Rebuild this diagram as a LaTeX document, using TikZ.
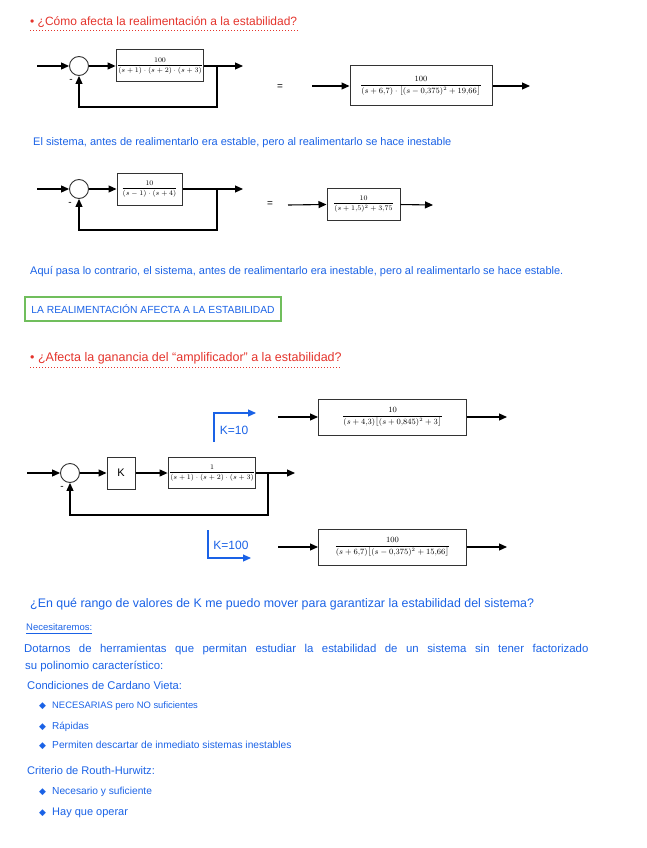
\documentclass[tikz,border=0pt]{standalone}
\usepackage{amsmath}
\usepackage{fontspec}
\setmainfont{Liberation Sans}
\newfontfamily\symfont{DejaVu Sans}
\usetikzlibrary{arrows.meta}

\definecolor{notered}{RGB}{228,52,44}
\definecolor{noteblue}{RGB}{26,98,230}
\definecolor{notegreen}{RGB}{112,190,92}

\begin{document}
\begin{tikzpicture}[x=1pt,y=-1pt,
  block/.style={draw=black!80,line width=1pt,inner sep=1pt,font=\fontsize{7}{8}\selectfont},
  sumnode/.style={draw=black!80,circle,minimum size=19pt,inner sep=0pt,line width=0.9pt},
  arr/.style={-{Triangle[length=8pt,width=7pt]},line width=1.1pt},
  karr/.style={-{Triangle[length=8pt,width=7pt]},line width=1.1pt,noteblue},
  redtitle/.style={anchor=base west,text=notered,font=\fontsize{12}{14}\selectfont,inner sep=0pt},
  bluetxt/.style={anchor=base west,text=noteblue,font=\fontsize{11}{13}\selectfont,inner sep=0pt},
  ktxt/.style={text=noteblue,font=\fontsize{12}{14}\selectfont,inner sep=0pt},
  sign/.style={font=\fontsize{10}{12}\selectfont,inner sep=0pt},
  bul/.style={anchor=base west,text=noteblue,font=\fontsize{9}{10}\symfont,inner sep=0pt}
]
\useasboundingbox (0,0) rectangle (646,848);

% ---- title 1
\node[redtitle] (t1) at (30,26) {• ¿Cómo afecta la realimentación a la estabilidad?};
\draw[notered,dotted,line width=1pt] ([yshift=-5pt]t1.base west) -- ([yshift=-5pt]t1.base east);

% ---- diagram 1
\coordinate (in1) at (37,66);
\node[sumnode] (s1) at (79,66) {};
\node[block,minimum width=84pt,minimum height=32pt] (g1) at (160,66) {$\dfrac{100}{(s+1)\cdot(s+2)\cdot(s+3)}$};
\coordinate (b1) at (217,66);
\coordinate (out1) at (243,66);
\coordinate (fb1) at (79,107);
\draw[arr] (in1) -- (s1);
\draw[arr] (s1) -- (g1);
\draw[arr] (g1) -- (out1);
\draw[arr] (b1) |- (fb1) -- (s1);
\node[sign] (m1) at (71,81) {-};
\node[sign] (eq1) at (280,87) {=};
\coordinate (in1e) at (312,86);
\node[block,minimum width=142pt,minimum height=40pt,font=\fontsize{7.6}{9}\selectfont] (h1) at (421,86) {$\dfrac{100}{(s+6{,}7)\cdot\bigl[(s-0{,}375)^2+19{,}66\bigr]}$};
\coordinate (out1e) at (530,86);
\draw[arr] (in1e) -- (h1);
\draw[arr] (h1) -- (out1e);

\node[bluetxt] (c1) at (33,146) {El sistema, antes de realimentarlo era estable, pero al realimentarlo se hace inestable};

% ---- diagram 2
\coordinate (in2) at (37,189);
\node[sumnode] (s2) at (79,189) {};
\node[block,minimum width=65pt,minimum height=32pt] (g2) at (149.5,189) {$\dfrac{10}{(s-1)\cdot(s+4)}$};
\coordinate (b2) at (217,189);
\coordinate (out2) at (243,189);
\coordinate (fb2) at (79,230);
\draw[arr] (in2) -- (s2);
\draw[arr] (s2) -- (g2);
\draw[arr] (g2) -- (out2);
\draw[arr] (b2) |- (fb2) -- (s2);
\node[sign] (m2) at (70,204) {-};
\node[sign] (eq2) at (270,204) {=};
\coordinate (in2e) at (288,205);
\node[block,minimum width=73pt,minimum height=32pt] (h2) at (363.5,204) {$\dfrac{10}{(s+1{,}5)^2+3{,}75}$};
\coordinate (out2e) at (433,205);
\draw[arr] (in2e) -- (h2);
\draw[arr] (h2) -- (out2e);

\node[bluetxt] (c2) at (30,274) {Aquí pasa lo contrario, el sistema, antes de realimentarlo era inestable, pero al realimentarlo se hace estable.};

\node[draw=notegreen,line width=1.2pt,minimum width=256pt,minimum height=24pt,text=noteblue,font=\fontsize{10.3}{12}\selectfont] (res) at (153,309) {LA REALIMENTACIÓN AFECTA A LA ESTABILIDAD};

% ---- title 2
\node[redtitle,font=\fontsize{12.5}{14}\selectfont] (t2) at (30,361) {• ¿Afecta la ganancia del “amplificador” a la estabilidad?};
\draw[notered,dotted,line width=1pt] ([yshift=-6pt]t2.base west) -- ([yshift=-6pt]t2.base east);

% ---- K = 10
\coordinate (k10a) at (214,442);
\coordinate (k10b) at (214,413);
\coordinate (k10c) at (256,413);
\draw[karr] (k10a) -- (k10b) -- (k10c);
\node[ktxt] (k10) at (234,430) {K=10};
\coordinate (in10) at (278,417);
\node[block,minimum width=148pt,minimum height=36pt,font=\fontsize{7.6}{9}\selectfont] (r10) at (392.5,417) {$\dfrac{10}{(s+4{,}3)\bigl[(s+0{,}845)^2+3\bigr]}$};
\coordinate (out10) at (507,417);
\draw[arr] (in10) -- (r10);
\draw[arr] (r10) -- (out10);

% ---- diagram 3
\coordinate (in3) at (27,473);
\node[sumnode] (s3) at (70,473) {};
\node[block,minimum width=28pt,minimum height=32pt,font=\fontsize{11}{12}\selectfont] (kb) at (121,473) {K};
\node[block,minimum width=84pt,minimum height=31pt] (g3) at (212,473) {$\dfrac{1}{(s+1)\cdot(s+2)\cdot(s+3)}$};
\coordinate (b3) at (268,473);
\coordinate (out3) at (295,473);
\coordinate (fb3) at (70,515);
\draw[arr] (in3) -- (s3);
\draw[arr] (s3) -- (kb);
\draw[arr] (kb) -- (g3);
\draw[arr] (g3) -- (out3);
\draw[arr] (b3) |- (fb3) -- (s3);
\node[sign] (m3) at (62,488) {-};

% ---- K = 100
\coordinate (k100a) at (208,530);
\coordinate (k100b) at (208,558);
\coordinate (k100c) at (251,558);
\draw[karr] (k100a) -- (k100b) -- (k100c);
\node[ktxt] (k100) at (231,545) {K=100};
\coordinate (in100) at (278,547);
\node[block,minimum width=148pt,minimum height=36pt,font=\fontsize{7.6}{9}\selectfont] (r100) at (392.5,547) {$\dfrac{100}{(s+6{,}7)\bigl[(s-0{,}375)^2+15{,}66\bigr]}$};
\coordinate (out100) at (507,547);
\draw[arr] (in100) -- (r100);
\draw[arr] (r100) -- (out100);

% ---- notes
\node[bluetxt,font=\fontsize{12.4}{14}\selectfont] (q) at (30,607) {¿En qué rango de valores de K me puedo mover para garantizar la estabilidad del sistema?};
\node[bluetxt,font=\fontsize{9.5}{11}\selectfont] (nec) at (26,630) {Necesitaremos:};
\draw[noteblue,line width=0.6pt] ([yshift=-3pt]nec.base west) -- ([yshift=-3pt]nec.base east);
\node[bluetxt,font=\fontsize{11.4}{14}\selectfont] (d1) at (24,652) {\spaceskip=8.5pt\relax Dotarnos de herramientas que permitan estudiar la estabilidad de un sistema sin tener factorizado};
\node[bluetxt,font=\fontsize{11.4}{14}\selectfont] (d2) at (25,669) {su polinomio característico:};
\node[bluetxt,font=\fontsize{11.2}{13}\selectfont] (cv) at (27,689) {Condiciones de Cardano Vieta:};
\node[bul] (cv1b) at (39,708) {◆};
\node[bluetxt,font=\fontsize{9.4}{11}\selectfont] (cv1) at (52,708) {NECESARIAS pero NO suficientes};
\node[bul] (cv2b) at (39,729) {◆};
\node[bluetxt,font=\fontsize{10}{11}\selectfont] (cv2) at (52,729) {Rápidas};
\node[bul] (cv3b) at (39,748) {◆};
\node[bluetxt,font=\fontsize{10.2}{11}\selectfont] (cv3) at (52,748) {Permiten descartar de inmediato sistemas inestables};
\node[bluetxt,font=\fontsize{11.1}{13}\selectfont] (rh) at (27,774) {Criterio de Routh-Hurwitz:};
\node[bul] (rh1b) at (39,794) {◆};
\node[bluetxt,font=\fontsize{10.2}{11}\selectfont] (rh1) at (52,794) {Necesario y suficiente};
\node[bul] (rh2b) at (39,815) {◆};
\node[bluetxt,font=\fontsize{11}{11}\selectfont] (rh2) at (52,815) {Hay que operar};
\end{tikzpicture}
\end{document}
